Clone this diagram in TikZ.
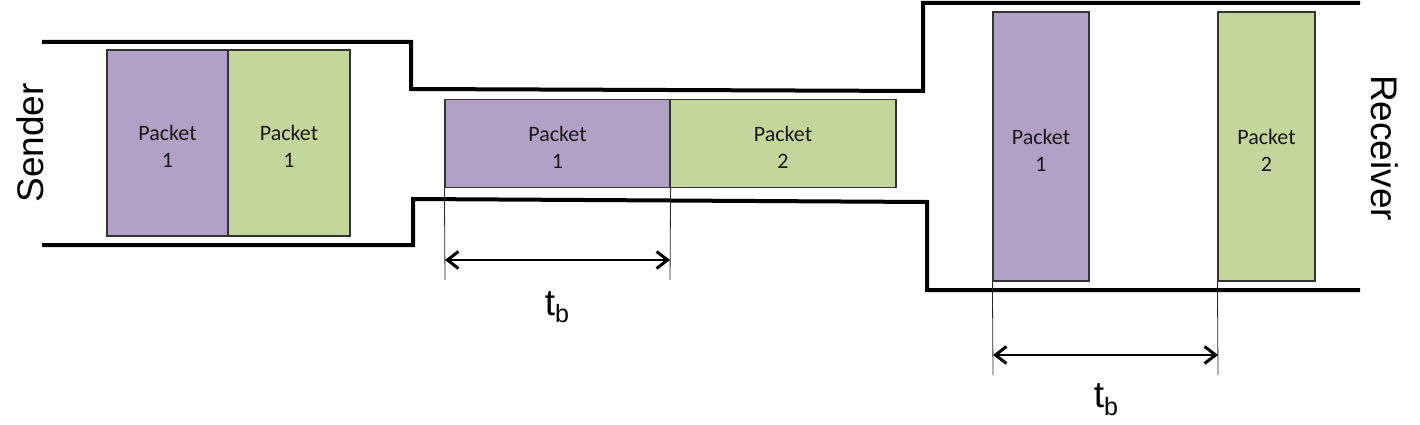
\documentclass[tikz,border=0pt]{standalone}
\usepackage{fontspec}
\setmainfont{Liberation Sans}
\newfontfamily\pktfont{Carlito}
\usetikzlibrary{arrows.meta}
\definecolor{pktpurple}{HTML}{B2A1C7}
\definecolor{pktgreen}{HTML}{C3D69B}
\begin{document}
\begin{tikzpicture}[x=1pt,y=-1pt,
  pipe/.style={line width=4pt},
  pktlbl/.style={align=center, inner sep=0pt, yshift=-3.5pt,
    font=\pktfont\fontsize{22}{27}\selectfont, text=black!90},
  pkt/.style={draw=black!80, line width=1.2pt, inner sep=0pt,
    label={[pktlbl]center:#1}},
  pur/.style={pkt=#1, fill=pktpurple},
  grn/.style={pkt=#1, fill=pktgreen},
  ext/.style={line width=0.8pt, draw=black!85},
  dimarrow/.style={line width=1.5pt,
    {Straight Barb[length=11pt,width=17pt,line width=3pt]}-{Straight Barb[length=11pt,width=17pt,line width=3pt]}},
  lbl/.style={font=\fontsize{37}{37}\selectfont},
  tlbl/.style={anchor=base, inner sep=0pt, font=\fontsize{37}{37}\selectfont}]
\useasboundingbox (0,0) rectangle (1420,425);

% pipe outline
\draw[pipe] (42,42) -- (411,42) -- (411,89) -- (923,91) -- (923,3) -- (1360,3);
\draw[pipe] (42,245) -- (413,245) -- (413,199) -- (927,202) -- (927,290) -- (1360,290);

% sender packets
\node[pur={Packet\\1}, minimum width=121pt, minimum height=186pt] (s1) at (167.5,143) {};
\node[grn={Packet\\1}, minimum width=122pt, minimum height=186pt] (s2) at (289,143) {};

% middle packets
\node[pur={Packet\\1}, minimum width=225pt, minimum height=88pt] (m1) at (557.5,143.5) {};
\node[grn={Packet\\2}, minimum width=226pt, minimum height=88pt] (m2) at (783,143.5) {};

% receiver packets
\node[pur={Packet\\1}, minimum width=96pt, minimum height=269pt] (r1) at (1041,146.5) {};
\node[grn={Packet\\2}, minimum width=97pt, minimum height=269pt] (r2) at (1266.5,146.5) {};

% side labels
\node[lbl, rotate=90] (snd) at (30,143) {Sender};
\node[lbl, rotate=-90] (rcv) at (1385,148) {Receiver};

% middle dimension
\coordinate (ma) at (445,280);
\coordinate (mb) at (670,280);
\draw[ext] (m1.south west) -- (ma);
\draw[ext] (m1.south east) -- (mb);
\coordinate (mal) at (445,260);
\coordinate (mbl) at (670,260);
\draw[dimarrow] (mal) -- (mbl);
\node[tlbl] (tb1) at (557,315) {t\raisebox{-7pt}{\fontsize{25}{25}\selectfont b}};

% receiver dimension
\coordinate (ra) at (993,375);
\coordinate (rb) at (1218,375);
\draw[ext] (r1.south west) -- (ra);
\draw[ext] (r2.south west) -- (rb);
\coordinate (ral) at (993,355);
\coordinate (rbl) at (1218,355);
\draw[dimarrow] (ral) -- (rbl);
\node[tlbl] (tb2) at (1106,407) {t\raisebox{-8pt}{\fontsize{25}{25}\selectfont b}};
\end{tikzpicture}
\end{document}
